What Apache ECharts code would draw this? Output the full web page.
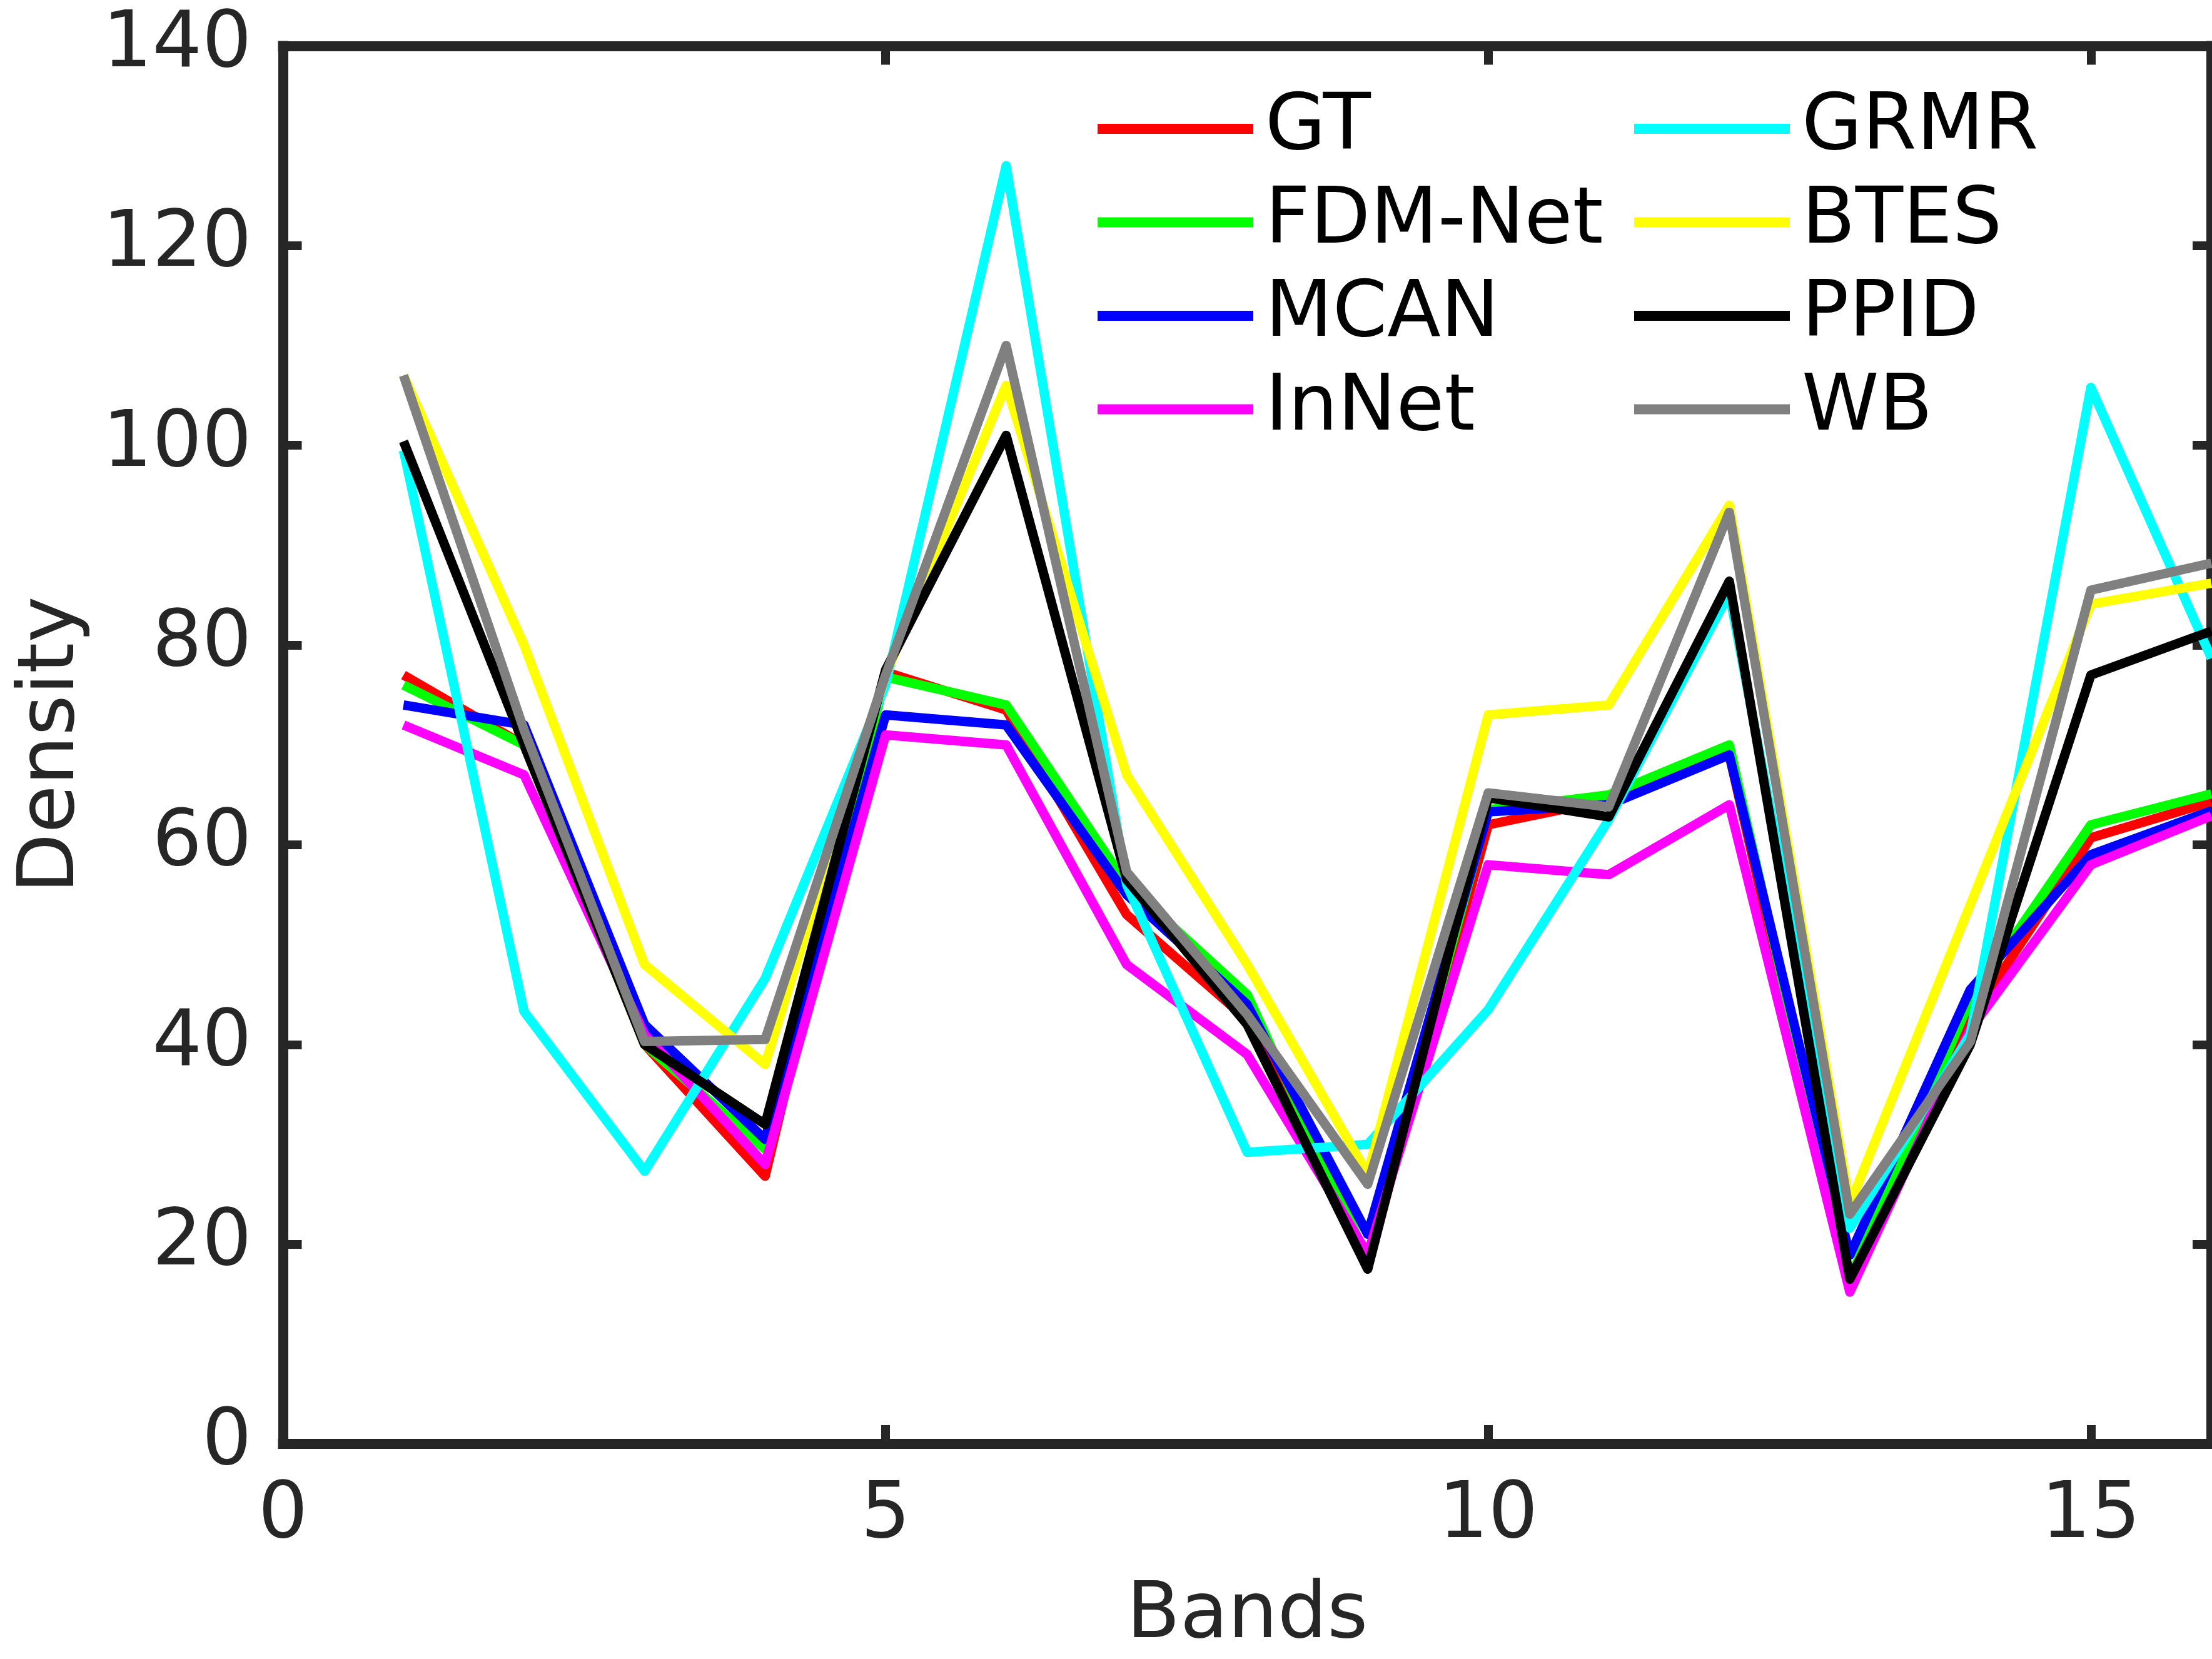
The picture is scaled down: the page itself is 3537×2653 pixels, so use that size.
<!DOCTYPE html>
<html>
<head>
<meta charset="utf-8">
<script src="https://cdn.jsdelivr.net/npm/echarts@6/dist/echarts.min.js"></script>
<style>
html,body{margin:0;padding:0;background:#fff;}
#chart{width:3537px;height:2653px;}
</style>
</head>
<body>
<div id="chart"></div>
<script>
const bands = [1,2,3,4,5,6,7,8,9,10,11,12,13,14,15,16];
const xTicks = [0,5,10,15];
const yTicks = [0,20,40,60,80,100,120,140];
const seriesNames = ['GT','FDM-Net','MCAN','InNet','GRMR','BTES','PPID','WB'];
const seriesColors = ['#FF0000','#00FF00','#0000FF','#FF00FF','#00FFFF','#FFFF00','#000000','#808080'];
const GT    = [77, 70, 40, 26.8, 77.3, 73.5, 53, 42.5, 18, 62, 64.5, 69, 16, 42.5, 60.7, 64.3];
const FDM   = [76, 70, 40, 29.5, 76.8, 74, 56, 45, 18.5, 63.5, 65, 70, 16.5, 44.5, 62, 65.1];
const MCAN  = [74, 72, 42, 30.5, 73, 72, 55, 44, 21, 63.3, 64, 69, 18.9, 45.5, 59, 63.4];
const InNet = [72, 67, 41, 28, 71, 70, 48, 39, 19, 58, 57, 64, 15.2, 41.5, 58, 62.9];
const GRMR  = [99.5, 43.3, 27.3, 46.6, 76, 128, 56, 29.2, 30, 43.5, 62.5, 85.2, 21.6, 41, 105.8, 78.7];
const BTES  = [107, 80, 48, 38, 77, 106, 67, 48, 27, 73, 74, 94, 24, 54, 84.1, 86.2];
const PPID  = [100.4, 70, 40, 32, 77.5, 101, 56.5, 42, 17.5, 64.7, 62.8, 86.4, 16.5, 40, 77, 81.4];
const WB    = [107, 71.5, 40.3, 40.5, 77, 110, 57.3, 43, 26, 65.2, 63.8, 93.3, 23, 40.3, 85.5, 88.2];
const allValues = [GT, FDM, MCAN, InNet, GRMR, BTES, PPID, WB];

const FONT = 'DejaVu Sans';
const AX = '#262626';
const chart = echarts.init(document.getElementById('chart'), null, {renderer:'canvas'});

function xAxisDef(pos, showLabels) {
  return {
    type:'value', min:0, max:16, interval:5, position:pos,
    name: showLabels ? 'Bands' : '', nameLocation:'middle', nameGap:214,
    nameTextStyle:{fontFamily:FONT, fontSize:125, color:AX},
    axisLine:{show:true, onZero:false, lineStyle:{color:AX, width:16, cap:'square'}},
    axisTick:{show:true, inside:true, length:30, customValues:xTicks, lineStyle:{color:AX, width:14}},
    axisLabel:{show:showLabels, margin:54, customValues:xTicks, fontFamily:FONT, fontSize:125, color:AX},
    splitLine:{show:false}
  };
}
function yAxisDef(pos, showLabels) {
  return {
    type:'value', min:0, max:140, interval:20, position:pos,
    name: showLabels ? 'Density' : '', nameLocation:'middle', nameGap:305, nameRotate:90,
    nameTextStyle:{fontFamily:FONT, fontSize:125, color:AX},
    axisLine:{show:true, onZero:false, lineStyle:{color:AX, width:16, cap:'square'}},
    axisTick:{show:true, inside:true, length:30, customValues:yTicks, lineStyle:{color:AX, width:14}},
    axisLabel:{show:showLabels, margin:50, customValues:yTicks, fontFamily:FONT, fontSize:125, color:AX,
               padding:[28,0,0,0]},
    splitLine:{show:false}
  };
}

const series = seriesNames.map((n,i)=>({
  name:n, type:'line', xAxisIndex:0, yAxisIndex:0,
  data: bands.map((b,j)=>[b, allValues[i][j]]),
  symbol:'none', showSymbol:false,
  lineStyle:{color:seriesColors[i], width:15, join:'round'},
  itemStyle:{color:seriesColors[i]},
  z: 3 + i, animation:false
}));

function legendDef(names, left) {
  return {
    show:true, orient:'vertical', left:left, top:143, padding:0,
    itemWidth:249, itemHeight:16, itemGap:23.5, icon:'rect',
    selectedMode:false, data:names,
    textStyle:{fontFamily:FONT, fontSize:125, color:'#000', lineHeight:126, padding:[0,0,0,14]}
  };
}

chart.setOption({
  backgroundColor:'#fff',
  animation:false,
  grid:{left:452.5, right:1, top:73.5, bottom:344, containLabel:false},
  xAxis:[xAxisDef('bottom', true), xAxisDef('top', false)],
  yAxis:[yAxisDef('left', true), yAxisDef('right', false)],
  legend:[legendDef(seriesNames.slice(0,4), 1755), legendDef(seriesNames.slice(4), 2613)],
  series: series
});
</script>
</body>
</html>
